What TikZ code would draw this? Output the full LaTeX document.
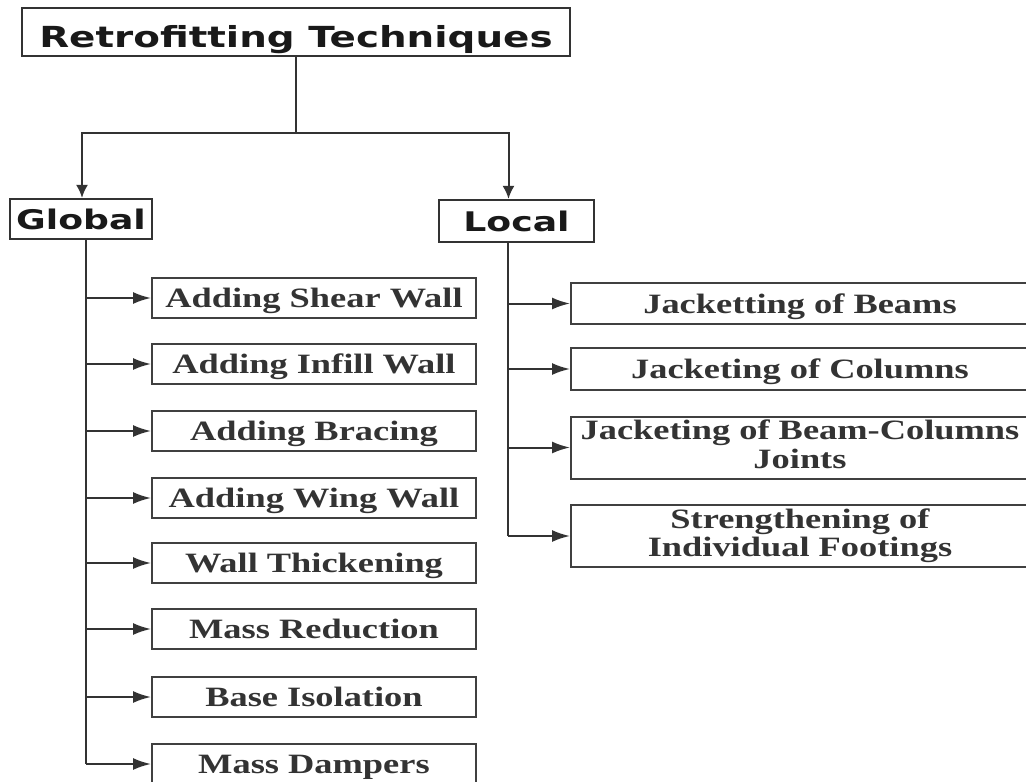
\documentclass[tikz,border=0pt]{standalone}
\usepackage{fontspec}
\usetikzlibrary{arrows.meta}
\newfontfamily\hdfont[FakeStretch=1.34]{DejaVu Sans}
\newfontfamily\itfont[FakeStretch=1.3]{Liberation Serif}
\begin{document}
\begin{tikzpicture}[x=1pt,y=-1pt,
  conn/.style={draw=black!80, line width=2pt},
  hbox/.style={draw=black!80, line width=2.2pt, rectangle, inner sep=0pt, text=black!90},
  ibox/.style={draw=black!75, line width=2pt, rectangle, inner sep=0pt,
    font=\itfont\bfseries\fontsize{28}{28.5}\selectfont, text=black!80},
  gbox/.style={ibox, minimum width=324pt, minimum height=40pt, text height=19pt, text depth=0pt},
  lbox/.style={ibox, minimum width=458pt},
  lone/.style={lbox, text height=19pt, text depth=0pt},
  ltwo/.style={lbox, align=center, minimum height=62pt, text height=47.5pt, text depth=6.5pt},
  arr/.style={conn, -{Latex[length=18pt,width=12pt]}},
  darr/.style={conn, -{Latex[length=13pt,width=12pt]}}]
\useasboundingbox[fill=white] (0,0) rectangle (1026,782);

\node[hbox, minimum width=548pt, minimum height=48pt, text height=30pt, text depth=0pt,
  font=\hdfont\bfseries\fontsize{29}{32}\selectfont] (title) at (296,32) {Retrofitting Techniques};
\node[hbox, minimum width=142pt, minimum height=40pt,
  font=\hdfont\bfseries\fontsize{27}{30}\selectfont] (global) at (81,219) {Global};
\node[hbox, minimum width=155pt, minimum height=42pt,
  font=\hdfont\bfseries\fontsize{27}{30}\selectfont] (local) at (516.5,221) {Local};

\node[gbox] (g1) at (314,298) {Adding Shear Wall};
\node[gbox] (g2) at (314,364) {Adding Infill Wall};
\node[gbox] (g3) at (314,431) {Adding Bracing};
\node[gbox] (g4) at (314,498) {Adding Wing Wall};
\node[gbox] (g5) at (314,563) {Wall Thickening};
\node[gbox] (g6) at (314,629) {Mass Reduction};
\node[gbox] (g7) at (314,697) {Base Isolation};
\node[gbox] (g8) at (314,764) {Mass Dampers};

\node[lone, minimum height=41pt] (l1) at (800,303.5) {Jacketting of Beams};
\node[lone, minimum height=42pt] (l2) at (800,369) {Jacketing of Columns};
\node[ltwo] (l3) at (800,447.5) {Jacketing of Beam-Columns\\Joints};
\node[ltwo] (l4) at (800,536) {Strengthening of\\Individual Footings};

% top split
\draw[conn] (title.south) -- ++(0,76) coordinate (split);
\draw[darr] (split) -| ([xshift=1pt]global.north);
\draw[darr] (split) -| ([xshift=-8pt]local.north);

% global trunk
\coordinate (gt) at ([xshift=5pt]global.south);
\draw[conn] (gt) -- (gt |- g8.west);
\foreach \n in {g1,g2,g3,g4,g5,g6,g7,g8}
  \draw[arr] (gt |- \n.west) -- (\n.west);

% local trunk
\coordinate (lt) at ([xshift=-9pt]local.south);
\draw[conn] (lt) -- (lt |- l4.west);
\foreach \n in {l1,l2,l3,l4}
  \draw[arr] (lt |- \n.west) -- (\n.west);
\end{tikzpicture}
\end{document}
